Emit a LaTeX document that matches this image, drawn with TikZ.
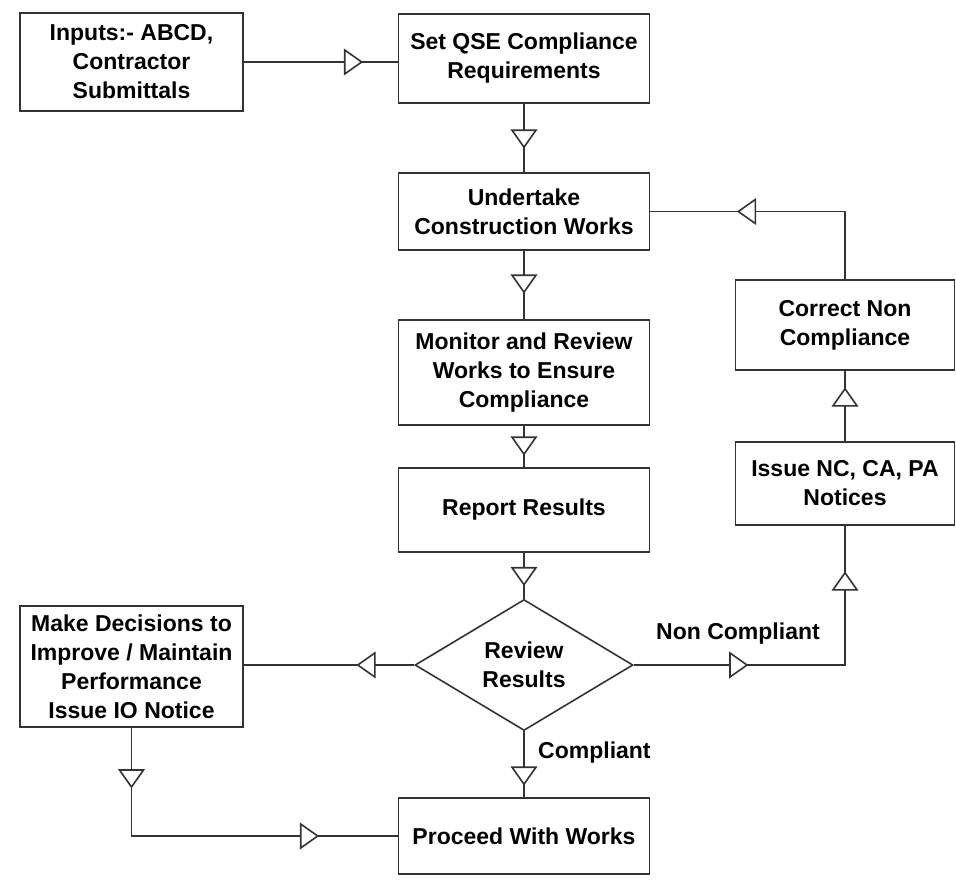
\documentclass[tikz,border=0pt]{standalone}
\usepackage{fontspec}
\setmainfont{Liberation Sans}
\usetikzlibrary{shapes.geometric,decorations.markings}

\definecolor{ink}{HTML}{333333}

\tikzset{
  base/.style={draw=ink, line width=1.6pt, align=center, text=black,
    font=\fontsize{23}{29}\selectfont\bfseries, inner sep=0pt},
  box/.style={base, rectangle, minimum width=#1},
  box/.default=251pt,
  decision/.style={base, diamond, aspect=1.66, minimum width=218pt, minimum height=131pt},
  link/.style={draw=ink, line width=1.6pt},
  lbl/.style={font=\fontsize{23}{29}\selectfont\bfseries, inner sep=0pt},
  % open triangle marker, tip placed at the given distance along the path
  tri at/.style={postaction={decorate, decoration={markings,
    mark=at position #1 with {\draw[draw=ink, line width=1.6pt, fill=white, line join=miter]
      (0pt,0pt) -- (-17pt,12pt) -- (-17pt,-12pt) -- cycle;}}}}
}

\begin{document}
\begin{tikzpicture}[x=1pt, y=-1pt]
\useasboundingbox (0,0) rectangle (956,879);

% process boxes
\node[box=223pt, minimum height=98pt] (inputs) at (131.5,62) {Inputs:- ABCD,\\Contractor\\Submittals};
\node[box, minimum height=89pt] (setqse) at (524,58.5) {Set QSE Compliance\\Requirements};
\node[box, minimum height=77pt] (undertake) at (524,211.5) {Undertake\\Construction Works};
\node[box, minimum height=105pt] (monitor) at (524,372.5) {Monitor and Review\\Works to Ensure\\Compliance};
\node[box, minimum height=84pt] (report) at (524,510) {Report Results};
\node[decision] (review) at (524,665) {Review\\Results};
\node[box, minimum height=76pt] (proceed) at (524,836) {Proceed With Works};
\node[box=223pt, minimum height=121pt] (decide) at (131.5,666.5) {Make Decisions to\\Improve / Maintain\\Performance\\Issue IO Notice};
\node[box=219pt, minimum height=90pt] (correct) at (845,325) {Correct Non\\Compliance};
\node[box=219pt, minimum height=83pt] (issue) at (845,483.5) {Issue NC, CA, PA\\Notices};

% corners of the elbow connectors
\coordinate (nc) at (issue.south |- review.east);
\coordinate (dc) at (decide.south |- proceed.west);
\coordinate (cc) at (correct.north |- undertake.east);

% main flow
\draw[link, tri at=-36pt] (inputs.east) -- (inputs.east -| setqse.west);
\draw[link, tri at=-25pt] (setqse) -- (undertake);
\draw[link, tri at=-27pt] (undertake) -- (monitor);
\draw[link, tri at=-13pt] (monitor) -- (report);
\draw[link, tri at=-14pt] (report) -- (review);
\draw[link, tri at=-13pt] (review) -- (proceed);

% improvement branch
\draw[link, tri at=-114pt] (review.west) -- (review.west -| decide.east);
\draw[link, tri at=-49pt] (decide.south) -- (dc);
\draw[link, tri at=-80pt] (dc) -- (proceed.west);

% non-compliance loop
\draw[link, tri at=-98pt] (review.east) -- (nc);
\draw[link, tri at=-47pt] (nc) -- (issue.south);
\draw[link, tri at=-18pt] (issue) -- (correct);
\draw[link] (correct.north) -- (cc);
\draw[link, tri at=-88pt] (cc) -- (undertake.east);
\fill[ink] (nc) +(-0.8pt,-0.8pt) rectangle +(0.8pt,0.8pt);
\fill[ink] (dc) +(-0.8pt,-0.8pt) rectangle +(0.8pt,0.8pt);
\fill[ink] (cc) +(-0.8pt,-0.8pt) rectangle +(0.8pt,0.8pt);

% branch labels
\node[lbl] (lnc) at (738,634) {Non Compliant};
\node[lbl, anchor=west] (lc) at (538,753) {Compliant};
\end{tikzpicture}
\end{document}
